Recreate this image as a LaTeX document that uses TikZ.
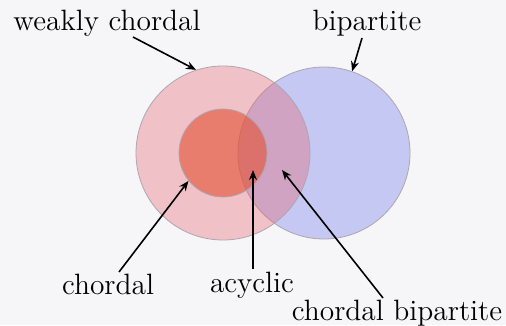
\documentclass[tikz,border=0pt]{standalone}
\usetikzlibrary{arrows.meta}
\definecolor{bg}{RGB}{246,246,248}
\definecolor{bluec}{RGB}{196,200,242}
\definecolor{pinkc}{RGB}{230,100,110}
\definecolor{redc}{RGB}{228,80,50}
\definecolor{rim}{RGB}{175,165,175}
\begin{document}
\begin{tikzpicture}[x=0.5pt,y=-0.5pt,
  setc/.style={circle,inner sep=0pt,draw=rim,line width=0.4pt},
  lab/.style={font=\fontsize{14.7}{17}\selectfont,inner sep=0pt,anchor=base},
  arr/.style={-{Stealth[length=5pt,width=4pt]},line width=0.8pt,black}]
\fill[bg] (0,0) rectangle (506,325);
\useasboundingbox (0,0) rectangle (506,325);
\node[setc,fill=bluec,minimum size=86pt] (bi) at (324,153) {};
\node[setc,fill=pinkc,fill opacity=0.36,minimum size=87pt] (wc) at (223,153) {};
\node[setc,fill=redc,fill opacity=0.6,minimum size=44pt] (ch) at (223,153) {};
\node[lab] (lwc) at (107,31) {weakly chordal};
\node[lab] (lbi) at (367,31) {bipartite};
\node[lab] (lch) at (108,294) {chordal};
\node[lab] (lac) at (252,292) {acyclic};
\node[lab] (lcb) at (397,320) {chordal bipartite};
\coordinate (swc) at (133,37);
\coordinate (sbi) at (362,38);
\coordinate (sch) at (119,272);
\coordinate (sac) at (253,269);
\coordinate (scb) at (383,298);
\coordinate (tac) at (253,170);
\coordinate (tcb) at (282,170);
\draw[arr] (swc) -- (wc.108);
\draw[arr] (sbi) -- (bi.71);
\draw[arr] (sch) -- (ch.219);
\draw[arr] (sac) -- (tac);
\draw[arr] (scb) -- (tcb);
\end{tikzpicture}
\end{document}
